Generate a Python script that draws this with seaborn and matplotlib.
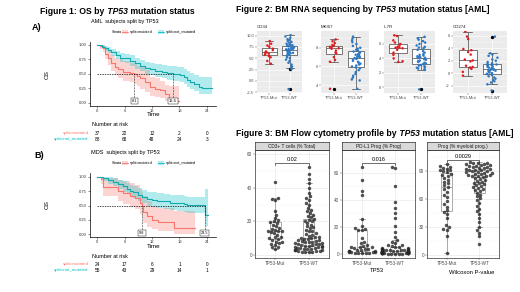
import warnings
import numpy as np
import pandas as pd
import matplotlib
matplotlib.use("Agg")
import matplotlib.pyplot as plt
import seaborn as sns
from matplotlib.patches import Rectangle
from matplotlib.ticker import AutoMinorLocator

warnings.filterwarnings("ignore")
np.random.seed(3)

# ---------------- Figure 1 data: Kaplan-Meier ----------------
risk_times = [0, 6, 12, 18, 24]

A_mut_time = [0, 0.6, 1.2, 1.7, 2.4, 3.1, 3.9, 4.6, 5.7, 7.2, 8.1, 8.6, 9.4, 10.5, 11.6, 12.7, 13.8, 14.9, 15.6, 16.3, 17.4, 17.8]
A_mut_surv = [1.0, 0.98, 0.94, 0.85, 0.77, 0.68, 0.62, 0.58, 0.53, 0.51, 0.50, 0.46, 0.42, 0.36, 0.27, 0.24, 0.22, 0.14, 0.08, 0.05, 0.02, 0.02]
A_mut_lo = [1.0, 0.93, 0.87, 0.75, 0.65, 0.55, 0.48, 0.43, 0.38, 0.35, 0.33, 0.28, 0.24, 0.19, 0.12, 0.10, 0.08, 0.03, 0.01, 0.0, 0.0, 0.0]
A_mut_hi = [1.0, 1.0, 1.0, 0.95, 0.90, 0.83, 0.78, 0.75, 0.72, 0.69, 0.68, 0.64, 0.62, 0.56, 0.45, 0.42, 0.38, 0.30, 0.28, 0.28, 0.28, 0.28]

A_wt_time = [0, 1.0, 1.7, 2.4, 3.1, 4.1, 5.0, 6.1, 7.2, 8.3, 9.4, 10.5, 11.6, 12.7, 14.1, 15.2, 16.6, 17.4, 18.1, 18.9, 19.6, 20.3, 21.1, 22.2, 22.9, 25.1]
A_wt_surv = [1.0, 0.97, 0.94, 0.91, 0.87, 0.83, 0.78, 0.77, 0.73, 0.68, 0.64, 0.60, 0.58, 0.55, 0.53, 0.52, 0.50, 0.49, 0.48, 0.45, 0.40, 0.36, 0.33, 0.27, 0.26, 0.26]
A_wt_lo = [1.0, 0.94, 0.90, 0.86, 0.81, 0.76, 0.70, 0.68, 0.64, 0.58, 0.54, 0.50, 0.47, 0.44, 0.42, 0.40, 0.38, 0.37, 0.35, 0.32, 0.27, 0.23, 0.20, 0.15, 0.15, 0.15]
A_wt_hi = [1.0, 1.0, 0.98, 0.96, 0.93, 0.90, 0.86, 0.85, 0.82, 0.78, 0.74, 0.71, 0.69, 0.67, 0.65, 0.64, 0.63, 0.62, 0.61, 0.59, 0.55, 0.51, 0.48, 0.45, 0.45, 0.45]

B_mut_time = [0, 0.7, 1.3, 4.6, 5.7, 7.2, 8.3, 9.4, 9.8, 10.1, 10.8, 11.9, 13.4, 16.7, 21.5]
B_mut_surv = [1.0, 0.96, 0.82, 0.76, 0.71, 0.67, 0.63, 0.55, 0.50, 0.39, 0.31, 0.25, 0.21, 0.11, 0.11]
B_mut_lo = [1.0, 0.88, 0.66, 0.58, 0.53, 0.48, 0.44, 0.36, 0.30, 0.20, 0.13, 0.09, 0.06, 0.0, 0.0]
B_mut_hi = [1.0, 1.0, 0.98, 0.95, 0.92, 0.89, 0.86, 0.78, 0.74, 0.66, 0.58, 0.50, 0.45, 0.40, 0.40]

B_wt_time = [0, 1.3, 2.4, 3.5, 4.6, 5.7, 6.4, 7.2, 7.9, 9.0, 9.7, 10.8, 11.9, 13.0, 14.5, 15.9, 17.4, 18.9, 19.6, 23.5, 24.3]
B_wt_surv = [1.0, 0.97, 0.94, 0.90, 0.87, 0.83, 0.79, 0.75, 0.73, 0.68, 0.65, 0.61, 0.60, 0.58, 0.57, 0.55, 0.54, 0.52, 0.51, 0.34, 0.34]
B_wt_lo = [1.0, 0.93, 0.88, 0.83, 0.79, 0.74, 0.70, 0.65, 0.63, 0.57, 0.54, 0.49, 0.48, 0.46, 0.44, 0.42, 0.41, 0.39, 0.37, 0.15, 0.15]
B_wt_hi = [1.0, 1.0, 0.99, 0.97, 0.95, 0.92, 0.89, 0.86, 0.84, 0.80, 0.77, 0.74, 0.73, 0.71, 0.70, 0.69, 0.68, 0.66, 0.65, 0.79, 0.79]

A_medians = [8.1, 16.6]
B_medians = [9.8, 23.5]
A_risk_mut = [37, 22, 12, 2, 0]
A_risk_wt = [88, 68, 48, 24, 3]
B_risk_mut = [24, 17, 6, 1, 0]
B_risk_wt = [55, 43, 29, 14, 1]
strata = ["split=mutated", "split=not_mutated"]

# ---------------- Figure 2 data: RNA expression ----------------
groups = ["TP53-Mut", "TP53-WT"]
genes = ["CD34", "MKI67", "IL7R", "CD274"]
cd34_mut = [8.8, 8.2, 7.8, 7.5, 7.1, 6.8, 6.5, 6.3, 6.2, 6.0, 5.8, 5.5, 5.2, 4.4, 3.8]
cd34_wt = [10.1, 9.8, 9.5, 9.2, 9.0, 8.8, 8.6, 8.4, 8.2, 8.0, 7.9, 7.8, 7.7, 7.6, 7.5, 7.4, 7.3, 7.2, 7.1, 7.0,
           6.95, 6.9, 6.85, 6.8, 6.75, 6.7, 6.6, 6.5, 6.4, 6.3, 6.2, 6.1, 6.0, 5.9, 5.7, 5.5, 5.2, 5.0, 4.7, 4.4,
           4.0, 3.6, 3.2, 2.9, 2.6, -1.8]
mki67_mut = [8.9, 8.7, 8.5, 8.3, 8.2, 8.1, 8.0, 7.95, 7.9, 7.7, 7.5, 7.4, 7.0, 6.7, 6.5, 3.6]
mki67_wt = [9.2, 9.0, 8.8, 8.6, 8.4, 8.2, 8.0, 7.9, 7.8, 7.7, 7.6, 7.5, 7.4, 7.3, 7.25, 7.2, 7.1, 7.05, 7.0, 6.95,
            6.9, 6.8, 6.7, 6.6, 6.5, 6.4, 6.3, 6.2, 6.1, 6.0, 5.9, 5.8, 5.6, 5.4, 5.2, 5.0, 4.8, 4.6, 4.5, 3.6]
il7r_mut = [7.2, 7.1, 6.5, 6.2, 6.0, 5.8, 5.6, 5.5, 5.5, 5.4, 5.2, 4.8, 4.5, 4.0, 3.6, 3.5]
il7r_wt = [7.0, 6.8, 6.6, 6.4, 6.2, 6.0, 5.8, 5.6, 5.5, 5.4, 5.2, 5.0, 4.8, 4.6, 4.5, 4.4, 4.3, 4.2, 4.15, 4.1,
           4.05, 4.0, 3.9, 3.8, 3.7, 3.6, 3.5, 3.4, 3.3, 3.2, 3.1, 3.0, 2.9, 2.8, 2.7, 2.6, 2.5, 2.4, -0.3]
cd274_mut = [6.7, 5.9, 5.5, 3.9, 3.7, 3.4, 3.0, 2.2, 2.05, 1.9, 1.2, 1.0, 0.9, 0.7, 0.2, -0.4]
cd274_wt = [5.9, 3.2, 3.0, 2.8, 2.5, 2.2, 2.0, 1.8, 1.6, 1.5, 1.4, 1.3, 1.25, 1.2, 1.1, 1.0, 0.9, 0.8, 0.75, 0.7,
            0.65, 0.6, 0.55, 0.5, 0.45, 0.4, 0.3, 0.2, 0.1, 0.0, -0.1, -0.15, -0.3, -0.5, -0.7, -0.9, -1.1, -1.3,
            -1.5, -1.8, -2.8]

# ---------------- Figure 3 data: flow cytometry ----------------
flow_titles = ["CD3+ T cells (% Total)", "PD-L1 Prog (% Prog)", "Prog (% myeloid prog.)"]
pvalues = ["0.02", "0.016", "0.0029"]
cd3_mut = [43.7, 34, 33.5, 33, 26, 24, 22, 21, 20, 19.5, 19, 18, 17, 16, 15.5, 15, 14.5, 14.3, 14, 13.5, 13, 12,
           11, 10.5, 10, 9.5, 9, 8, 7.5, 7, 6.5, 6, 5, 4.5, 3.6]
cd3_wt = [52.4, 48, 45.5, 43, 40, 37, 35, 34, 33, 31, 30, 28, 27, 26, 25, 24, 23.5, 22.5, 21.5, 21, 20.5, 20, 19,
          18, 17, 16.5, 16, 15, 14.5, 14, 13, 12.5, 12, 11.5, 11, 10.5, 10.2, 10, 9.8, 9.5, 9, 8.8, 8.5, 8.2, 8,
          7.8, 7.5, 7.2, 7, 6.8, 6.5, 6.3, 6, 5.8, 5.6, 5.4, 5.2, 5, 4.8, 4.6, 4.4, 4.2, 4, 3.8, 3.6, 3.4, 3.2, 3,
          2.8, 2.6, 2.4, 2.2, 2, 1.8, 1.6, 1.5]
pdl1_mut = [64.5, 55, 47, 43.5, 26, 21, 19, 18.5, 18, 17.5, 12, 9, 8, 7, 6, 5.5, 5.4, 5, 4.5, 4, 3.5, 3, 3, 2.5,
            2.2, 2, 1.8, 1.5, 1.3, 1.2, 1, 1, 0.8, 0.6, 0.5]
pdl1_wt = [64.6, 63.5, 50.5, 38.5, 34, 30, 27, 21, 16.5, 12.5, 10, 9, 8, 7, 6.5, 6, 5.5, 5, 4.5, 4.2, 4, 3.8, 3.5,
           3.2, 3, 2.9, 2.8, 2.7, 2.6, 2.5, 2.4, 2.3, 2.2, 2.1, 2, 1.9, 1.8, 1.7, 1.6, 1.5, 1.45, 1.4, 1.35, 1.3,
           1.25, 1.2, 1.15, 1.1, 1.05, 1, 0.95, 0.9, 0.85, 0.8, 0.75, 0.7, 0.65, 0.6, 0.55, 0.5, 0.45, 0.4, 0.35,
           0.3, 0.25, 0.2, 0.15, 0.1]
prog_mut = [98, 96, 95, 94, 93, 92, 91, 90, 89, 87, 86, 85, 83, 81, 79, 77, 75, 73, 71, 68, 65, 62, 58, 55, 52,
            48, 46, 44, 40, 32, 30, 28, 27, 20, 2]
prog_wt = [100, 99.5, 99, 98.5, 98, 97.5, 97, 96.5, 96, 95.5, 95, 94.5, 94, 93.5, 93, 92.5, 92, 91.5, 91, 90.5, 90,
           89.5, 89, 88.5, 88, 87.5, 87, 86.5, 86, 85.5, 85, 84.5, 84, 83, 82, 81, 80, 79, 78, 77, 76, 75, 74, 73,
           72, 71, 70, 69, 67, 65, 63, 61, 59, 56, 53, 50, 47, 44, 40, 35, 30, 27, 24, 20, 12]

RED = "#F8766D"
TEAL = "#00BFC4"
MUT_COL = "#E31A1C"
WT_COL = "#2E78C2"

plt.rcParams["font.family"] = ["Liberation Sans", "DejaVu Sans"]

W, H = 520, 292
fig = plt.figure(figsize=(5.2, 2.92), dpi=100)


def box(x0, y0, x1, y1):
    return [x0 / W, 1 - y1 / H, (x1 - x0) / W, (y1 - y0) / H]


# ---------------- KM panels ----------------
def km_panel(top, bottom, y1px, y0px, curves, medians):
    ax = fig.add_axes(box(90, top, 216, bottom))
    ppu = (y0px - y1px)
    ax.set_ylim(-(bottom - y0px) / ppu, 1 + (y1px - top) / ppu)
    ax.set_xlim(-1.6, 26.0)
    for t, s, lo, hi, col, lcol in curves:
        ax.fill_between(t, lo, hi, step="post", color=col, alpha=0.3, lw=0)
        sns.lineplot(x=t, y=s, drawstyle="steps-post", color=lcol, lw=0.8, ax=ax,
                     estimator=None, sort=False)
    ax.plot([0, max(medians)], [0.5, 0.5], ls=(0, (2, 1.5)), color="black", lw=0.5)
    for m in medians:
        ax.plot([m, m], [0.5, 0.02], ls=(0, (1, 1.2)), color="black", lw=0.5)
        ax.text(m, 0.02, f"{m:g}", fontsize=2.8, ha="center", va="center",
                bbox=dict(boxstyle="square,pad=0.25", fc="white", ec="black", lw=0.3))
    ax.set_xticks(risk_times)
    ax.set_yticks([0, 0.25, 0.5, 0.75, 1.0])
    ax.set_yticklabels(["0.00", "0.25", "0.50", "0.75", "1.00"])
    ax.tick_params(labelsize=3, length=1.5, width=0.4, pad=1, colors="#333333")
    for sp in ["top", "right"]:
        ax.spines[sp].set_visible(False)
    for sp in ["left", "bottom"]:
        ax.spines[sp].set_linewidth(0.5)
    ax.set_xlabel("")
    ax.set_ylabel("")
    return ax


km_panel(42, 106, 45, 102.5,
         [(A_mut_time, A_mut_surv, A_mut_lo, A_mut_hi, RED, RED),
          (A_wt_time, A_wt_surv, A_wt_lo, A_wt_hi, TEAL, "#12AAAE")], A_medians)
km_panel(173, 237, 176.7, 234.3,
         [(B_mut_time, B_mut_surv, B_mut_lo, B_mut_hi, RED, RED),
          (B_wt_time, B_wt_surv, B_wt_lo, B_wt_hi, TEAL, "#12AAAE")], B_medians)

# risk tables share the KM time axis
for top, mut_n, wt_n in [(118, A_risk_mut, A_risk_wt), (249, B_risk_mut, B_risk_wt)]:
    rax = fig.add_axes(box(90, top, 216, top + 26))
    rax.set_xlim(-1.6, 26.0)
    rax.set_ylim(26, 0)
    rax.axis("off")
    rax.text(-1.2, 7, "Number at risk", fontsize=4, ha="left", va="center")
    for row_y, counts, col, lab in [(15.3, mut_n, RED, strata[0]), (21.3, wt_n, TEAL, strata[1])]:
        rax.text(-1.9, row_y, lab, fontsize=3.2, color=col, ha="right", va="center", clip_on=False)
        for t, n in zip(risk_times, counts):
            rax.text(t, row_y, str(n), fontsize=3.4, ha="center", va="center")

# ---------------- Figure 2 panels ----------------
rna_sets = [
    (cd34_mut, cd34_wt, (257, 302), (-2.65, 11.0), [-2.5, 0, 2.5, 5, 7.5, 10]),
    (mki67_mut, mki67_wt, (321, 369), (3.15, 9.8), [4, 6, 8]),
    (il7r_mut, il7r_wt, (384, 435), (-0.8, 7.8), [0, 2, 4, 6]),
    (cd274_mut, cd274_wt, (453, 507), (-3.2, 6.8), [-2, 0, 2, 4, 6]),
]
for gene, (mut, wt, (x0, x1), ylim, yt) in zip(genes, rna_sets):
    ax = fig.add_axes(box(x0, 31, x1, 93))
    df = pd.DataFrame({"group": [groups[0]] * len(mut) + [groups[1]] * len(wt), "value": mut + wt})
    ax.set_facecolor("#EBEBEB")
    sns.boxplot(data=df, x="group", y="value", order=groups, color="white", linecolor="#444444",
                linewidth=0.5, width=0.75, fliersize=1.4,
                flierprops=dict(marker="o", markerfacecolor="black", markeredgecolor="black"), ax=ax)
    sns.stripplot(data=df, x="group", y="value", order=groups, hue="group",
                  palette={groups[0]: MUT_COL, groups[1]: WT_COL}, jitter=0.22, size=1.8,
                  legend=False, ax=ax, zorder=3)
    ax.set_ylim(*ylim)
    ax.set_xlim(-0.6, 1.6)
    ax.set_yticks(yt)
    ax.set_yticklabels([f"{v:g}" if gene != "CD34" else f"{v:.1f}" for v in yt])
    ax.yaxis.set_minor_locator(AutoMinorLocator(2))
    ax.grid(True, which="major", color="white", lw=0.5)
    ax.grid(True, which="minor", axis="y", color="white", lw=0.25)
    ax.set_axisbelow(True)
    ax.tick_params(labelsize=2.9, length=1.2, width=0.3, pad=1, colors="#4D4D4D")
    ax.tick_params(which="minor", length=0)
    for sp in ax.spines.values():
        sp.set_visible(False)
    ax.set_xlabel("")
    ax.set_ylabel("")
    ax.text(0, 1.03, gene, transform=ax.transAxes, fontsize=3.2, ha="left", va="bottom", color="#222222")

# ---------------- Figure 3 panels ----------------
flow_sets = [
    (cd3_mut, cd3_wt, (255, 329), (-1.8, 62.5), [0, 20, 40, 60], 54.7, 1.2),
    (pdl1_mut, pdl1_wt, (342, 415), (-3, 77), [0, 20, 40, 60], 67.4, 1.5),
    (prog_mut, prog_wt, (427, 499), (-3.3, 113), [0, 30, 60, 90], 102, 2.2),
]
for title, pv, (mut, wt, (x0, x1), ylim, yt, by, tick) in zip(flow_titles, pvalues, flow_sets):
    ax = fig.add_axes(box(x0, 150, x1, 258))
    df = pd.DataFrame({"group": [groups[0]] * len(mut) + [groups[1]] * len(wt), "value": mut + wt})
    sns.boxplot(data=df, x="group", y="value", order=groups, color="white", linecolor="#8C8C8C",
                linewidth=0.5, width=0.32, showfliers=False, ax=ax)
    sns.swarmplot(data=df, x="group", y="value", order=groups, color="#262626", alpha=0.8,
                  size=2.5, ax=ax, zorder=3)
    ax.plot([0, 0, 1, 1], [by - tick, by, by, by - tick], color="black", lw=0.4)
    ax.text(0.5, by + tick * 0.6, pv, fontsize=4, ha="center", va="bottom")
    ax.set_ylim(*ylim)
    ax.set_xlim(-0.6, 1.6)
    ax.set_yticks(yt)
    ax.yaxis.set_minor_locator(AutoMinorLocator(2))
    ax.grid(True, which="major", color="#E5E5E5", lw=0.4)
    ax.grid(True, which="minor", axis="y", color="#F0F0F0", lw=0.25)
    ax.set_axisbelow(True)
    ax.tick_params(labelsize=3.3, length=1.2, width=0.3, pad=1, colors="#4D4D4D")
    ax.tick_params(which="minor", length=0)
    for sp in ax.spines.values():
        sp.set_linewidth(0.5)
        sp.set_color("#333333")
    ax.set_xlabel("")
    ax.set_ylabel("")
    sax = fig.add_axes(box(x0, 142, x1, 150))
    sax.set_facecolor("#D9D9D9")
    sax.set_xticks([])
    sax.set_yticks([])
    for sp in sax.spines.values():
        sp.set_linewidth(0.5)
        sp.set_color("#333333")
    sax.text(0.5, 0.5, title, fontsize=3.4, ha="center", va="center", color="#1A1A1A",
             transform=sax.transAxes)

# ---------------- overlay in pixel coordinates: titles, labels, legends ----------------
ov = fig.add_axes([0, 0, 1, 1])
ov.set_xlim(0, W)
ov.set_ylim(H, 0)
ov.axis("off")
ov.patch.set_alpha(0)
renderer = fig.canvas.get_renderer()


def rich_title(x, y, parts, size=6.2):
    cx = x
    for s, style in parts:
        t = ov.text(cx, y, s, fontsize=size, fontweight="bold", fontstyle=style, ha="left", va="center")
        bb = t.get_window_extent(renderer)
        cx = ov.transData.inverted().transform((bb.x1, bb.y0))[0]


rich_title(40.5, 11.5, [("Figure 1: OS by", "normal"), (" TP53", "italic"), (" mutation status", "normal")])
rich_title(236, 10, [("Figure 2: BM RNA sequencing by", "normal"), (" TP53", "italic"),
                     (" mutation status [AML]", "normal")])
rich_title(236.5, 133.5, [("Figure 3: BM Flow cytometry profile by", "normal"), (" TP53", "italic"),
                          (" mutation status [AML]", "normal")])

ov.text(32, 27, "A)", fontsize=6.5, fontweight="bold", ha="left", va="center")
ov.text(34, 155, "B)", fontsize=6.5, fontweight="bold", ha="left", va="center")

for ytitle, yleg, ycenter, ytime, name in [(22, 32, 75, 115, "AML"), (152.7, 163.3, 205, 246, "MDS")]:
    ov.text(91, ytitle, f"{name}  subjects split by TP53", fontsize=4, ha="left", va="center")
    ov.text(112, yleg, "Strata", fontsize=2.8, ha="left", va="center")
    for kx, tx, col, lab in [(122, 130, RED, strata[0]), (157.5, 165.5, TEAL, strata[1])]:
        ov.add_patch(Rectangle((kx, yleg - 2), 6, 4, facecolor=col, alpha=0.3, lw=0))
        ov.plot([kx, kx + 6], [yleg, yleg], color=col, lw=0.6)
        ov.text(tx, yleg, lab, fontsize=2.8, ha="left", va="center")
    ov.text(47, ycenter, "OS", fontsize=4.5, rotation=90, ha="center", va="center")
    ov.text(154, ytime, "Time", fontsize=4.5, ha="center", va="center")

ov.text(377, 270, "TP53", fontsize=4.2, ha="center", va="center")
ov.text(472, 273, "Wilcoxon P-value", fontsize=4.2, ha="center", va="center")

fig.savefig("out.png", dpi=100)
